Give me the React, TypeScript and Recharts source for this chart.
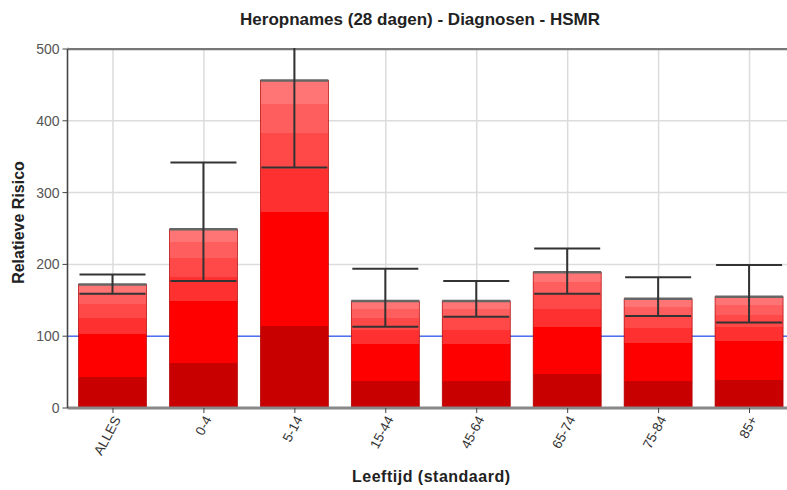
import { BarChart, Bar, XAxis, YAxis, CartesianGrid, ReferenceLine, ErrorBar } from "recharts";

const categories = ["ALLES", "0-4", "5-14", "15-44", "45-64", "65-74", "75-84", "85+"];
const risk = [172, 249, 456, 149, 149, 189, 152, 155];
const lowerBound = [159, 177, 335, 113, 127, 159, 128, 119];
const upperBound = [186, 342, 530, 194, 177, 222, 182, 199];
const yTicks = [0, 100, 200, 300, 400, 500];
const baseline = [100];

const data = categories.map((cat, i) => ({
  cat,
  risk: risk[i],
  err: [risk[i] - lowerBound[i], upperBound[i] - risk[i]],
}));

const FONT = "'Liberation Sans', Arial, sans-serif";

// bar with banded red fill and a grey top edge
function BandedBar(props: any) {
  const { x, y, width, height } = props;
  if (!height || height <= 0) return null;
  return (
    <g>
      <rect x={x} y={y} width={width} height={height} fill="url(#redBands)" stroke="#b00000" strokeWidth={0.7} />
      <line x1={x} x2={x + width} y1={y} y2={y} stroke="#666" strokeWidth={2.5} />
    </g>
  );
}

function renderXTick(props: any) {
  const { x, y, payload } = props;
  return (
    <g transform={`translate(${x + 4},${y + 2})`}>
      <text
        x={0}
        y={0}
        dy="0.35em"
        textAnchor="end"
        transform="rotate(-62)"
        fill="#333"
        fontSize={13.5}
        fontFamily={FONT}
      >
        {payload.value}
      </text>
    </g>
  );
}

function YLabel(props: any) {
  const { viewBox } = props;
  const cx = viewBox.x + 18;
  const cy = viewBox.y + viewBox.height / 2 - 6;
  return (
    <text
      x={cx}
      y={cy}
      transform={`rotate(-90, ${cx}, ${cy})`}
      textAnchor="middle"
      dominantBaseline="central"
      fontSize={16}
      fontWeight="bold"
      fill="#222"
      fontFamily={FONT}
    >
      Relatieve Risico
    </text>
  );
}

export default function App() {
  return (
    <div
      style={{
        position: "absolute",
        left: 0,
        top: 0,
        width: 787,
        height: 490,
        overflow: "hidden",
        background: "#fff",
        fontFamily: FONT,
      }}
    >
      <BarChart
        width={795}
        height={490}
        data={data}
        margin={{ top: 49, right: 0, left: 0, bottom: 0 }}
      >
        <defs>
          <linearGradient id="redBands" x1="0" y1="1" x2="0" y2="0">
            <stop offset="0" stopColor="#c80000" />
            <stop offset="0.25" stopColor="#c80000" />
            <stop offset="0.25" stopColor="#ff0000" />
            <stop offset="0.6" stopColor="#ff0000" />
            <stop offset="0.6" stopColor="#ff3030" />
            <stop offset="0.73" stopColor="#ff3030" />
            <stop offset="0.73" stopColor="#ff4848" />
            <stop offset="0.84" stopColor="#ff4848" />
            <stop offset="0.84" stopColor="#ff5e5e" />
            <stop offset="0.93" stopColor="#ff5e5e" />
            <stop offset="0.93" stopColor="#ff7474" />
            <stop offset="1" stopColor="#ff7474" />
          </linearGradient>
        </defs>
        <CartesianGrid stroke="#dcdcdc" strokeWidth={1.5} />
        {/* blue norm line at 100, kept behind the bars */}
        <CartesianGrid
          vertical={false}
          horizontalValues={baseline}
          stroke="#5070f0"
          strokeWidth={1.5}
        />
        <XAxis
          dataKey="cat"
          height={82}
          axisLine={{ stroke: "#888", strokeWidth: 3 }}
          tickLine={{ stroke: "#444" }}
          tickSize={5}
          interval={0}
          tick={renderXTick}
          label={{
            value: "Leeftijd (standaard)",
            position: "insideBottom",
            offset: 8,
            fontSize: 16,
            fontWeight: "bold",
            fill: "#222",
            letterSpacing: 0.5,
          }}
        />
        <YAxis
          width={67.5}
          domain={[0, 500]}
          ticks={yTicks}
          allowDataOverflow
          axisLine={{ stroke: "#444", strokeWidth: 1.5 }}
          tickLine={{ stroke: "#444" }}
          tickSize={5}
          tickMargin={3}
          tick={{ fill: "#555", fontSize: 14, fontFamily: FONT }}
          label={<YLabel />}
        />
        <ReferenceLine y={500} stroke="#777" strokeWidth={2.5} />
        <Bar dataKey="risk" barSize={68} shape={<BandedBar />} isAnimationActive={false}>
          <ErrorBar dataKey="err" width={33} stroke="#333" strokeWidth={2} direction="y" isAnimationActive={false} />
        </Bar>
      </BarChart>
      {/* white band above the plot hides error bars running past 500 */}
      <div
        style={{
          position: "absolute",
          top: 0,
          left: 69,
          width: 718,
          height: 47.5,
          background: "#fff",
        }}
      />
      <div
        style={{
          position: "absolute",
          top: 10,
          left: 0,
          width: 840,
          textAlign: "center",
          fontSize: 17,
          fontWeight: "bold",
          color: "#222",
        }}
      >
        Heropnames (28 dagen) - Diagnosen - HSMR
      </div>
    </div>
  );
}
